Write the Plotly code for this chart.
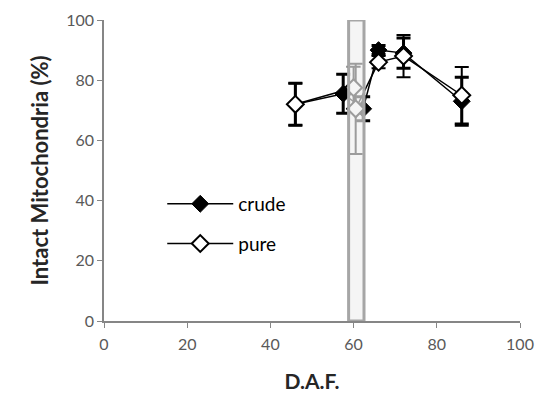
import plotly.graph_objects as go

# Days after flowering and percentage of intact mitochondria
crude_daf = [46, 57.5, 62.3, 66, 72, 86]
crude_intact = [72, 75.5, 70.5, 90, 89, 73]
crude_err = [7, 6.5, 4, 1.5, 5, 8]

pure_daf = [46, 60, 60.5, 66, 72, 86]
pure_intact = [72, 77.5, 70.5, 86, 88, 75]
pure_err = [7, 7, 15, 2, 7, 9.4]

# highlighted harvest window
window_daf = [58.8, 62.5]

tick_vals = [0, 20, 40, 60, 80, 100]

FONT = "Lato, 'Open Sans', sans-serif"
AXIS_GRAY = "#868686"

fig = go.Figure()

fig.add_trace(go.Scatter(
    x=crude_daf, y=crude_intact, name="crude", mode="lines+markers", legendgroup="crude",
    line=dict(color="black", width=1.5),
    marker=dict(symbol="diamond", size=13, color="black", line=dict(color="black", width=1)),
    error_y=dict(type="data", array=crude_err, color="black", thickness=3, width=7),
))
fig.add_trace(go.Scatter(
    x=pure_daf, y=pure_intact, name="pure", mode="lines+markers", legendgroup="pure",
    line=dict(color="black", width=1.5),
    marker=dict(symbol="diamond", size=13, color="white", line=dict(color="black", width=2)),
    error_y=dict(type="data", array=pure_err, color="black", thickness=2, width=7),
))

fig.add_shape(
    type="rect", xref="x", yref="y",
    x0=window_daf[0], x1=window_daf[1], y0=0, y1=100,
    fillcolor="rgba(240,240,240,0.65)", line=dict(color="#a6a6a6", width=3),
    layer="above",
)

axis_common = dict(
    range=[0, 100], tickvals=tick_vals, showgrid=False, zeroline=False,
    showline=True, linecolor=AXIS_GRAY, linewidth=1.5,
    ticks="outside", ticklen=5, tickcolor=AXIS_GRAY, automargin=False,
    tickfont=dict(family=FONT, size=16, color="#595959"),
)

fig.update_xaxes(**axis_common, ticklabelstandoff=3,
                 title=dict(text="<b>D.A.F.</b>", font=dict(family=FONT, size=21, color="#262626"), standoff=22))
fig.update_yaxes(**axis_common,
                 title=dict(text="<b>Intact Mitochondria (%)</b>", font=dict(family=FONT, size=22, color="#262626"), standoff=12))

fig.update_layout(
    width=539, height=398,
    margin=dict(l=104, r=19, t=20, b=77),
    plot_bgcolor="white", paper_bgcolor="white",
    showlegend=True,
    legend=dict(x=0.14, y=0.452, xanchor="left", yanchor="top",
                font=dict(family=FONT, size=19, color="black"),
                bgcolor="rgba(0,0,0,0)", tracegroupgap=12, itemwidth=66),
)

fig.write_html("out.html")
